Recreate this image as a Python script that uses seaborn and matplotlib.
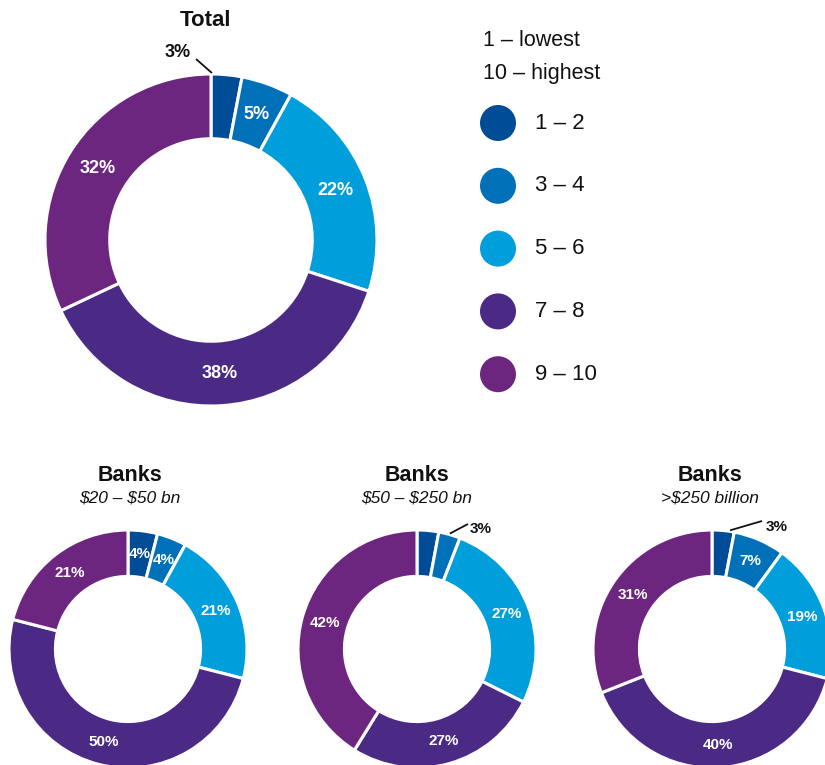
import numpy as np
import matplotlib
matplotlib.use("Agg")
import matplotlib.pyplot as plt
import seaborn as sns

# ---------------- data ----------------
categories = ["1 – 2", "3 – 4", "5 – 6", "7 – 8", "9 – 10"]
total_values = [3, 5, 22, 38, 32]
total_labels = ["3%", "5%", "22%", "38%", "32%"]
b20_values = [4, 4, 21, 50, 21]
b20_labels = ["4%", "4%", "21%", "50%", "21%"]
b50_values = [3, 3, 27, 27, 42]
b50_labels = ["", "3%", "27%", "27%", "42%"]
b250_values = [3, 7, 19, 40, 31]
b250_labels = ["3%", "7%", "19%", "40%", "31%"]
chart_titles = ["Total", "Banks", "Banks", "Banks"]
chart_subtitles = ["", "$20 – $50 bn", "$50 – $250 bn", ">$250 billion"]
legend_header = ["1 – lowest", "10 – highest"]
hex_colors = ["#004C97", "#0070B9", "#009FDB", "#4A2A84", "#6D267F"]

# ---------------- style ----------------
sns.set_theme(style="white")
plt.rcParams["font.family"] = ["Liberation Sans", "DejaVu Sans"]
palette = sns.color_palette(hex_colors)

W, H = 825, 765
fig = plt.figure(figsize=(W / 100, H / 100), dpi=100)
ax = fig.add_axes([0, 0, 1, 1])

TXT = "#111111"


def Y(y):
    return H - y


def donut(values, labels, cx, cy, r, fs, outside=None):
    width = r * 0.39
    wedges, _ = ax.pie(values, colors=palette, center=(cx, Y(cy)), radius=r,
                       startangle=90, counterclock=False,
                       wedgeprops=dict(width=width, edgecolor="white", linewidth=2.2))
    rm = r - width / 2
    for i, (w, lab) in enumerate(zip(wedges, labels)):
        if not lab:
            continue
        mid = np.deg2rad((w.theta1 + w.theta2) / 2)
        if outside and i in outside:
            frac, (tx, ty), (lx, ly), ofs = outside[i]
            a = np.deg2rad(w.theta2 - frac * (w.theta2 - w.theta1))
            px, py = cx + (r + 1) * np.cos(a), Y(cy) + (r + 1) * np.sin(a)
            ax.plot([px, lx], [py, Y(ly)], color=TXT, lw=1.3, solid_capstyle="butt")
            ax.text(tx, Y(ty), lab, ha="center", va="center", fontsize=ofs,
                    fontweight="bold", color=TXT)
        else:
            ax.text(cx + rm * np.cos(mid), Y(cy) + rm * np.sin(mid), lab,
                    ha="center", va="center", fontsize=fs, fontweight="bold",
                    color="white")


# Total donut
donut(total_values, total_labels, 211, 240, 166, 13,
      outside={0: (0.03, (178, 52), (196, 59), 13)})
# small donuts
donut(b20_values, b20_labels, 128, 649, 119, 11)
donut(b50_values, b50_labels, 417, 649, 119, 11,
      outside={1: (0.5, (481, 529), (468, 524), 11)})
donut(b250_values, b250_labels, 712, 649, 119, 11,
      outside={0: (0.8, (777, 527), (762, 521), 11)})

# titles
ax.text(205, Y(20), chart_titles[0], ha="center", va="center", fontsize=16,
        fontweight="bold", color=TXT)
for t, s, x in zip(chart_titles[1:], chart_subtitles[1:], [130, 417, 710]):
    ax.text(x, Y(475), t, ha="center", va="center", fontsize=15.5,
            fontweight="bold", color=TXT)
    ax.text(x, Y(498), s, ha="center", va="center", fontsize=12.5,
            fontstyle="italic", color=TXT, parse_math=False)

# legend
ax.text(483, Y(40), legend_header[0], ha="left", va="center", fontsize=15.5, color=TXT)
ax.text(483, Y(73), legend_header[1], ha="left", va="center", fontsize=15.5, color=TXT)
for i, (cat, col) in enumerate(zip(categories, palette)):
    yy = 123 + i * 62.8
    ax.add_patch(plt.Circle((498, Y(yy)), 18, color=col, lw=0))
    ax.text(535, Y(yy), cat, ha="left", va="center", fontsize=16, color=TXT)

ax.set_xlim(0, W)
ax.set_ylim(0, H)
ax.set_aspect("equal")
ax.axis("off")

fig.savefig("out.png", dpi=100, facecolor="white")
